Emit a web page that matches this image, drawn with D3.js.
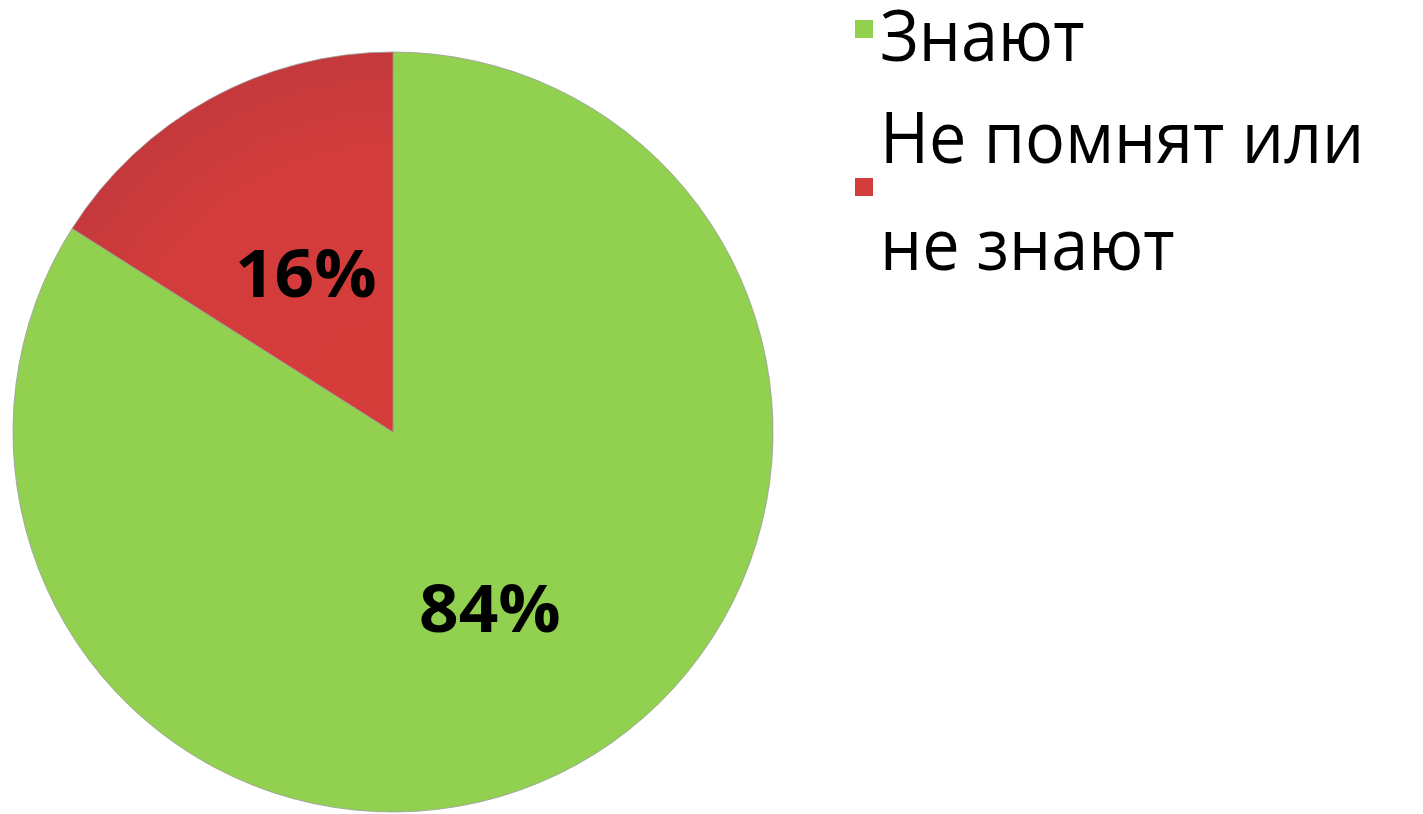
<!DOCTYPE html>
<html><head><meta charset="utf-8">
<script src="https://cdn.jsdelivr.net/npm/d3@7"></script>
<style>html,body{margin:0;padding:0;background:#fff;}svg{display:block;}</style>
</head><body>
<svg id="chart" width="1423" height="814"></svg>
<script>
const categories = ["Знают", "Не помнят или не знают"];
const legendLines = [["Знают"], ["Не помнят или", "не знают"]];
const values = [84, 16];
const labels = ["84%", "16%"];
const colors = ["#92d050", "#d23c3b"];

const svg = d3.select("#chart");
const cx = 393, cy = 432, R = 380;
const defs = svg.append("defs");
const rg = defs.append("radialGradient").attr("id","redg")
  .attr("gradientUnits","userSpaceOnUse").attr("cx",0).attr("cy",0).attr("r",R);
rg.append("stop").attr("offset","0%").attr("stop-color","#d63d3a");
rg.append("stop").attr("offset","75%").attr("stop-color","#d23c3b");
rg.append("stop").attr("offset","100%").attr("stop-color","#c4393c");

const pie = d3.pie().sort(null).value(d => d).startAngle(0).endAngle(2*Math.PI);
const arcs = pie(values);
const arc = d3.arc().innerRadius(0).outerRadius(R);
const g = svg.append("g").attr("transform", `translate(${cx},${cy})`);
g.selectAll("path").data(arcs).join("path")
  .attr("d", arc)
  .attr("fill", (d,i) => i === 1 ? "url(#redg)" : colors[i])
  .attr("stroke", "#9a9a9a").attr("stroke-width", 0.8);

const labelR = [201, 181];
g.selectAll("text.lbl").data(arcs).join("text").attr("class","lbl")
  .attr("transform", (d,i) => {
    const a = (d.startAngle + d.endAngle)/2;
    return `translate(${Math.sin(a)*labelR[i]},${-Math.cos(a)*labelR[i]}) scale(1.05,1)`;
  })
  .attr("text-anchor","middle").attr("dy","0.36em")
  .attr("font-family","Open Sans, sans-serif").attr("font-weight","bold")
  .attr("font-size", 66).attr("fill","#000")
  .text((d,i) => labels[i]);

// legend
const leg = svg.append("g");
const items = [
  {sq: 20, lines: [61]},
  {sq: 178, lines: [163, 270]}
];
items.forEach((it, i) => {
  leg.append("rect").attr("x", 855).attr("y", it.sq).attr("width", 18).attr("height", 18)
    .attr("fill", colors[i]);
  legendLines[i].forEach((t, j) => {
    leg.append("text").attr("transform", `translate(880,${it.lines[j]}) scale(0.925,1)`)
      .attr("font-family","Open Sans, sans-serif").attr("font-size", 72)
      .attr("fill","#000").text(t);
  });
});
</script>
</body></html>
